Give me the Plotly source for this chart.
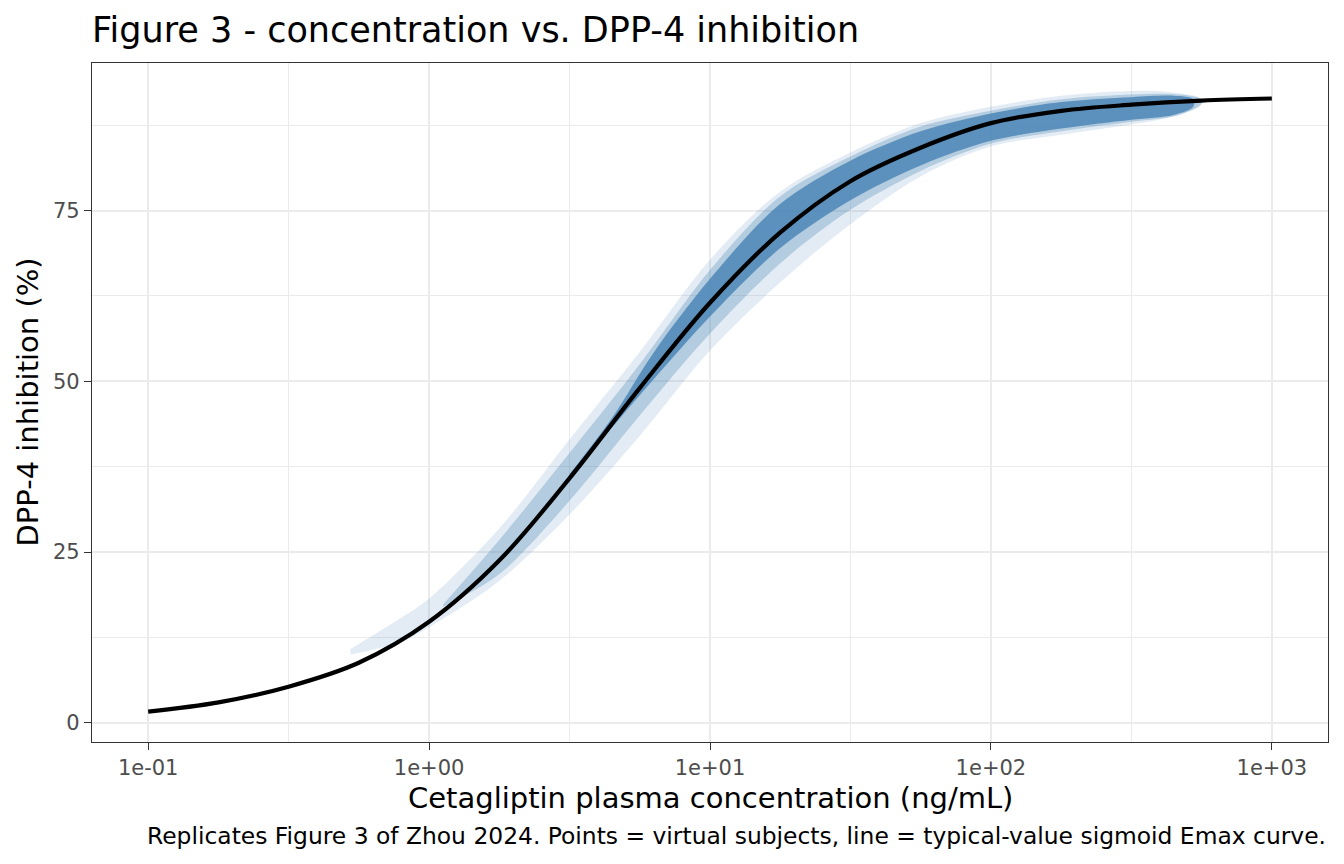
import plotly.graph_objects as go

# ---- data ----
# typical-value sigmoid Emax curve (concentration ng/mL, inhibition %)
curve_conc = [0.1, 0.178, 0.316, 0.562, 1.0, 1.78, 3.16, 5.62, 10.0,
              17.8, 31.6, 56.2, 100.0, 178.0, 316.0, 562.0, 1000.0]
curve_inh = [1.65, 3.0, 5.3, 8.8, 14.8, 23.8, 35.8, 49.0, 61.5,
             71.8, 79.3, 84.2, 87.8, 89.6, 90.5, 91.1, 91.4]

# virtual-subject point cloud: outer envelope (sparse points)
outer_conc = [0.525, 0.79, 1.0, 1.78, 3.16, 5.62, 10.0, 17.8, 31.6, 56.2,
              100.0, 178.0, 316.0, 420.0, 560.0]
outer_hi = [10.8, 15.3, 18.2, 28.5, 41.5, 54.3, 67.8, 77.8, 83.5, 87.8,
            90.2, 91.8, 92.5, 92.4, 91.4]
outer_lo = [10.0, 11.8, 14.0, 20.8, 30.5, 42.0, 54.5, 64.5, 73.0, 80.0,
            84.4, 86.1, 87.6, 88.5, 90.4]

# denser part of the cloud
mid_conc = [1.12, 1.78, 3.16, 5.62, 10.0, 17.8, 31.6, 56.2, 100.0, 178.0,
            316.0, 470.0, 560.0]
mid_hi = [17.3, 26.8, 39.5, 52.5, 66.3, 77.1, 82.9, 87.3, 89.6, 91.3,
          92.0, 92.0, 91.3]
mid_lo = [17.0, 21.8, 32.5, 45.0, 57.0, 67.3, 75.1, 80.8, 84.8, 86.6,
          88.0, 89.0, 90.6]

# dense core of the cloud
core_conc = [3.16, 4.47, 6.3, 10.0, 17.8, 31.6, 56.2, 100.0, 178.0, 316.0,
             447.0, 525.0]
core_hi = [36.4, 44.6, 54.2, 65.0, 76.0, 82.3, 86.6, 89.2, 90.9, 91.6,
           91.8, 91.3]
core_lo = [36.2, 43.2, 50.3, 59.5, 69.5, 76.5, 81.6, 85.2, 87.0, 88.3,
           89.0, 90.2]

x_tickvals = [0.1, 1, 10, 100, 1000]
x_ticktext = ["1e-01", "1e+00", "1e+01", "1e+02", "1e+03"]
x_minor = [0.316, 3.16, 31.6, 316]
y_tickvals = [0, 25, 50, 75]
y_minor = [12.5, 37.5, 62.5, 87.5]

title_text = "Figure 3 - concentration vs. DPP-4 inhibition"
x_title = "Cetagliptin plasma concentration (ng/mL)"
y_title = "DPP-4 inhibition (%)"
caption = ("Replicates Figure 3 of Zhou 2024. Points = virtual subjects, "
           "line = typical-value sigmoid Emax curve.")

STEEL = "70,130,180"
FONT = "DejaVu Sans"

fig = go.Figure()


def band(xs, hi, lo, alpha):
    return go.Scatter(
        x=list(xs) + list(xs)[::-1],
        y=list(hi) + list(lo)[::-1],
        fill="toself", mode="lines",
        line=dict(width=0, shape="spline", smoothing=0.9),
        fillcolor=f"rgba({STEEL},{alpha})",
        hoverinfo="skip", showlegend=False,
    )


fig.add_trace(band(outer_conc, outer_hi, outer_lo, 0.15))
fig.add_trace(band(mid_conc, mid_hi, mid_lo, 0.3))
fig.add_trace(band(core_conc, core_hi, core_lo, 0.8))

fig.add_trace(go.Scatter(
    x=curve_conc, y=curve_inh, mode="lines",
    line=dict(color="black", width=4.2, shape="spline", smoothing=1.0),
    showlegend=False, hoverinfo="skip",
))

axis_common = dict(
    showline=True, linecolor="#333333", linewidth=1.3, mirror=True,
    ticks="outside", ticklen=7, tickcolor="#333333", tickwidth=1.3,
    gridcolor="#EBEBEB", gridwidth=1.9, zeroline=False,
    tickfont=dict(family=FONT, size=21, color="#4D4D4D"),
)

fig.update_xaxes(
    type="log", range=[-1.2, 3.2],
    tickmode="array", tickvals=x_tickvals, ticktext=x_ticktext,
    minor=dict(tickmode="array", tickvals=x_minor, showgrid=True,
               gridcolor="#EBEBEB", gridwidth=1.0, ticks=""),
    **axis_common,
)
fig.update_yaxes(
    range=[-2.8, 96.6],
    tickmode="array", tickvals=y_tickvals,
    minor=dict(tickmode="array", tickvals=y_minor, showgrid=True,
               gridcolor="#EBEBEB", gridwidth=1.0, ticks=""),
    **axis_common,
)

# page has an 8px body margin; plot box is 1328x848 placed at (8,8)
PANEL_H = 742 - 63
PANEL_W = 1328 - 92

fig.update_layout(
    width=1328, height=848,
    margin=dict(l=84, r=8, t=55, b=114),
    paper_bgcolor="white", plot_bgcolor="white",
    font=dict(family=FONT),
    title=dict(text=title_text,
               font=dict(family=FONT, size=35, color="black"),
               xref="paper", x=0, xanchor="left",
               yref="container", y=1 - 22 / 848, yanchor="middle"),
    annotations=[
        dict(text=x_title, xref="paper", yref="paper",
             x=0.5, y=-(798 - 742) / PANEL_H,
             xanchor="center", yanchor="middle", showarrow=False,
             font=dict(family=FONT, size=29, color="black")),
        dict(text=y_title, xref="paper", yref="paper",
             x=(27 - 92) / PANEL_W, y=0.5, textangle=-90,
             xanchor="center", yanchor="middle", showarrow=False,
             font=dict(family=FONT, size=29, color="black")),
        dict(text=caption, xref="paper", yref="paper",
             x=1, y=-(836 - 742) / PANEL_H,
             xanchor="right", yanchor="middle", showarrow=False,
             font=dict(family=FONT, size=23.4, color="black")),
    ],
)

fig.write_html("out.html")
